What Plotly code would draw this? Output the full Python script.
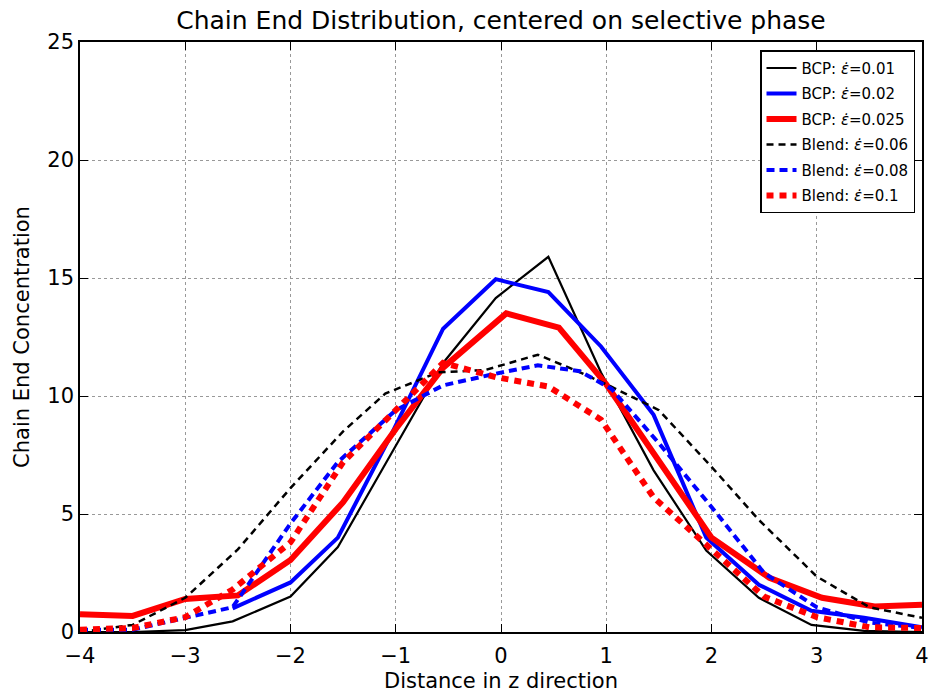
import plotly.graph_objects as go

# ---- data ----
x_bcp_001 = [-4.0, -3.5, -3.0, -2.55, -2.0, -1.55, -1.05, -0.55, -0.05, 0.45, 0.95, 1.45, 1.95, 2.45, 2.95, 3.45, 4.0]
y_bcp_001 = [0.0, 0.0, 0.08, 0.45, 1.5, 3.6, 7.5, 11.4, 14.15, 15.9, 11.0, 6.85, 3.45, 1.45, 0.3, 0.05, 0.0]

x_bcp_002 = [-2.55, -2.0, -1.55, -1.05, -0.55, -0.05, 0.45, 0.95, 1.45, 1.95, 2.45, 2.95, 3.45, 4.0]
y_bcp_002 = [1.0, 2.1, 4.0, 8.3, 12.85, 14.95, 14.4, 12.1, 9.2, 4.0, 2.0, 0.9, 0.6, 0.2]

x_bcp_0025 = [-4.0, -3.5, -3.0, -2.5, -2.0, -1.5, -1.0, -0.55, 0.05, 0.55, 1.0, 1.5, 2.0, 2.55, 3.05, 3.55, 4.0]
y_bcp_0025 = [0.75, 0.68, 1.4, 1.55, 3.05, 5.5, 8.6, 11.2, 13.5, 12.9, 10.5, 7.2, 4.0, 2.3, 1.45, 1.08, 1.15]

x_bl_006 = [-4.0, -3.5, -3.0, -2.5, -2.0, -1.5, -1.1, -0.6, -0.15, 0.35, 0.7, 1.0, 1.5, 2.0, 2.45, 3.0, 3.5, 4.0]
y_bl_006 = [0.0, 0.3, 1.45, 3.5, 6.1, 8.5, 10.1, 11.0, 11.1, 11.75, 11.1, 10.5, 9.4, 7.0, 4.75, 2.35, 1.05, 0.6]

x_bl_008 = [-4.0, -3.5, -3.0, -2.55, -2.0, -1.55, -1.0, -0.55, -0.1, 0.35, 0.75, 1.05, 1.5, 2.0, 2.5, 3.0, 3.5, 4.0]
y_bl_008 = [0.1, 0.1, 0.6, 1.05, 4.6, 7.2, 9.4, 10.45, 10.9, 11.3, 11.05, 10.3, 8.0, 5.3, 2.5, 1.05, 0.4, 0.17]

x_bl_01 = [-4.0, -3.5, -3.0, -2.55, -2.0, -1.5, -1.0, -0.55, -0.05, 0.45, 0.95, 1.45, 2.0, 2.5, 3.0, 3.5, 4.0]
y_bl_01 = [0.1, 0.17, 0.63, 1.8, 3.8, 7.2, 9.4, 11.4, 10.8, 10.4, 9.0, 5.7, 3.5, 1.5, 0.63, 0.2, 0.17]

series_names = ["BCP: <i>ε̇</i>=0.01", "BCP: <i>ε̇</i>=0.02", "BCP: <i>ε̇</i>=0.025",
                "Blend: <i>ε̇</i>=0.06", "Blend: <i>ε̇</i>=0.08", "Blend: <i>ε̇</i>=0.1"]

x_tick_vals = [-4, -3, -2, -1, 0, 1, 2, 3, 4]
x_tick_text = ["−4", "−3", "−2", "−1", "0", "1", "2", "3", "4"]
y_tick_vals = [0, 5, 10, 15, 20, 25]

# ---- figure ----
fig = go.Figure()
styles = [
    dict(color="black", width=2.2, dash="solid"),
    dict(color="blue", width=4, dash="solid"),
    dict(color="red", width=6, dash="solid"),
    dict(color="black", width=2.5, dash="7px,5px"),
    dict(color="blue", width=4, dash="8px,5px"),
    dict(color="red", width=6, dash="7px,6px"),
]
data = [(x_bcp_001, y_bcp_001), (x_bcp_002, y_bcp_002), (x_bcp_0025, y_bcp_0025),
        (x_bl_006, y_bl_006), (x_bl_008, y_bl_008), (x_bl_01, y_bl_01)]
for i, ((xs, ys), name, st) in enumerate(zip(data, series_names, styles)):
    fig.add_trace(go.Scatter(x=xs, y=ys, mode="lines", name=name, line=st,
                             legendgroup=f"g{i}"))

font_family = "DejaVu Sans"
fig.update_layout(
    width=933, height=696,
    margin=dict(l=80, r=11, t=42, b=64),
    paper_bgcolor="white", plot_bgcolor="white",
    font=dict(family=font_family, color="black"),
    title=dict(text="Chain End Distribution, centered on selective phase",
               x=0.5, xanchor="center", xref="paper", y=0.971, yanchor="middle",
               font=dict(size=25, family=font_family)),
    showlegend=True,
    legend=dict(x=0.9917, y=0.986, xanchor="right", yanchor="top",
                bgcolor="white", bordercolor="black", borderwidth=1.5,
                font=dict(size=15, family=font_family), itemwidth=30,
                tracegroupgap=3),
)
fig.update_xaxes(range=[-4, 4], tickvals=x_tick_vals, ticktext=x_tick_text,
                 showline=True, linecolor="black", linewidth=1.5, mirror="allticks",
                 ticks="inside", ticklen=8, tickcolor="black",
                 showgrid=True, gridcolor="#999999", griddash="dot", gridwidth=1,
                 zeroline=False, tickfont=dict(size=21), ticklabelstandoff=4,
                 automargin=False,
                 title=dict(text="Distance in z direction", font=dict(size=21), standoff=6))
fig.update_yaxes(range=[0, 25], tickvals=y_tick_vals,
                 showline=True, linecolor="black", linewidth=1.5, mirror="allticks",
                 ticks="inside", ticklen=8, tickcolor="black",
                 showgrid=True, gridcolor="#999999", griddash="dot", gridwidth=1,
                 zeroline=False, tickfont=dict(size=21), automargin=False,
                 title=dict(text="Chain End Concentration", font=dict(size=21), standoff=12))

fig.write_html("out.html")
